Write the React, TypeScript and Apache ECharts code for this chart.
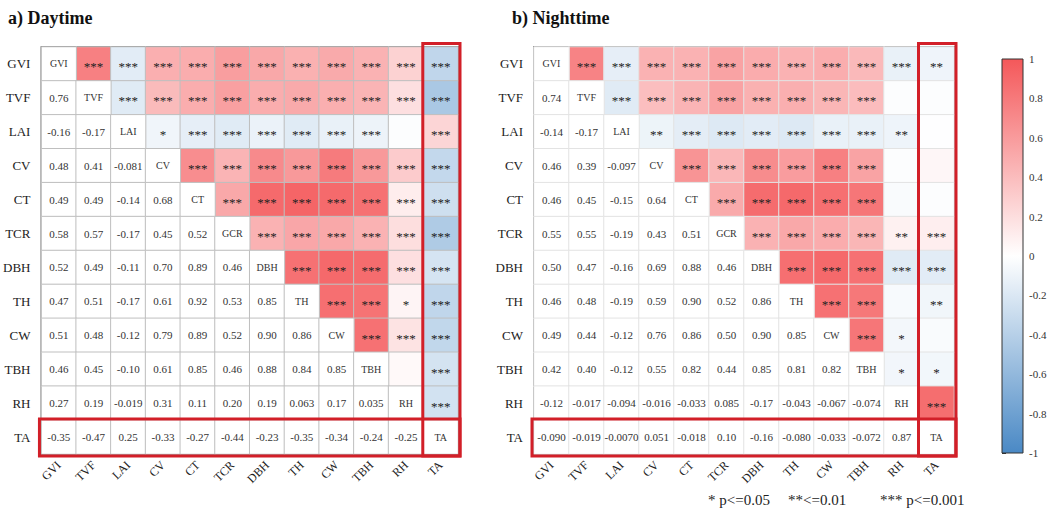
import React, { useEffect, useRef } from 'react';
import * as echarts from 'echarts';

const variables = ['GVI', 'TVF', 'LAI', 'CV', 'CT', 'TCR', 'DBH', 'TH', 'CW', 'TBH', 'RH', 'TA'];
const diagonalLabels = ['GVI', 'TVF', 'LAI', 'CV', 'CT', 'GCR', 'DBH', 'TH', 'CW', 'TBH', 'RH', 'TA'];
const colorbarTicks = [-1, -0.8, -0.6, -0.4, -0.2, 0, 0.2, 0.4, 0.6, 0.8, 1];

// lower triangle (row r, columns 0..r-1), as printed
const dayLower: string[][] = [
  [],
  ['0.76'],
  ['-0.16', '-0.17'],
  ['0.48', '0.41', '-0.081'],
  ['0.49', '0.49', '-0.14', '0.68'],
  ['0.58', '0.57', '-0.17', '0.45', '0.52'],
  ['0.52', '0.49', '-0.11', '0.70', '0.89', '0.46'],
  ['0.47', '0.51', '-0.17', '0.61', '0.92', '0.53', '0.85'],
  ['0.51', '0.48', '-0.12', '0.79', '0.89', '0.52', '0.90', '0.86'],
  ['0.46', '0.45', '-0.10', '0.61', '0.85', '0.46', '0.88', '0.84', '0.85'],
  ['0.27', '0.19', '-0.019', '0.31', '0.11', '0.20', '0.19', '0.063', '0.17', '0.035'],
  ['-0.35', '-0.47', '0.25', '-0.33', '-0.27', '-0.44', '-0.23', '-0.35', '-0.34', '-0.24', '-0.25'],
];

// upper triangle significance (row r, columns r+1..11)
const daySig: string[][] = [
  ['***', '***', '***', '***', '***', '***', '***', '***', '***', '***', '***'],
  ['***', '***', '***', '***', '***', '***', '***', '***', '***', '***'],
  ['*', '***', '***', '***', '***', '***', '***', '', '***'],
  ['***', '***', '***', '***', '***', '***', '***', '***'],
  ['***', '***', '***', '***', '***', '***', '***'],
  ['***', '***', '***', '***', '***', '***'],
  ['***', '***', '***', '***', '***'],
  ['***', '***', '*', '***'],
  ['***', '***', '***'],
  ['', '***'],
  ['***'],
  [],
];

const nightLower: string[][] = [
  [],
  ['0.74'],
  ['-0.14', '-0.17'],
  ['0.46', '0.39', '-0.097'],
  ['0.46', '0.45', '-0.15', '0.64'],
  ['0.55', '0.55', '-0.19', '0.43', '0.51'],
  ['0.50', '0.47', '-0.16', '0.69', '0.88', '0.46'],
  ['0.46', '0.48', '-0.19', '0.59', '0.90', '0.52', '0.86'],
  ['0.49', '0.44', '-0.12', '0.76', '0.86', '0.50', '0.90', '0.85'],
  ['0.42', '0.40', '-0.12', '0.55', '0.82', '0.44', '0.85', '0.81', '0.82'],
  ['-0.12', '-0.017', '-0.094', '-0.016', '-0.033', '0.085', '-0.17', '-0.043', '-0.067', '-0.074'],
  ['-0.090', '-0.019', '-0.0070', '0.051', '-0.018', '0.10', '-0.16', '-0.080', '-0.033', '-0.072', '0.87'],
];

const nightSig: string[][] = [
  ['***', '***', '***', '***', '***', '***', '***', '***', '***', '***', '**'],
  ['***', '***', '***', '***', '***', '***', '***', '***', '', ''],
  ['**', '***', '***', '***', '***', '***', '***', '**', ''],
  ['***', '***', '***', '***', '***', '***', '', ''],
  ['***', '***', '***', '***', '***', '', ''],
  ['***', '***', '***', '***', '**', '***'],
  ['***', '***', '***', '***', '***'],
  ['***', '***', '', '**'],
  ['***', '*', ''],
  ['*', '*'],
  ['***'],
  [],
];

// highlighted blocks: [x0, y0, x1, y1] in category indices
const highlightBoxes = [
  [11, 0, 11, 11],
  [0, 11, 11, 11],
];

const NEG = '#4a89c5';
const MID = '#ffffff';
const POS = '#f4585a';
const RED_BOX = '#d21f28';
const SERIF = '"Liberation Serif", "DejaVu Serif", serif';

function buildCells(lower: string[][], sig: string[][]) {
  const upper: any[] = [];
  const rest: any[] = [];
  const n = variables.length;
  for (let r = 0; r < n; r++) {
    for (let c = 0; c < n; c++) {
      if (c < r) {
        rest.push({ value: [c, r, parseFloat(lower[r][c])], txt: lower[r][c] });
      } else if (c === r) {
        rest.push({ value: [c, r, 1], txt: diagonalLabels[r], label: { fontSize: 10 } });
      } else {
        upper.push({ value: [c, r, parseFloat(lower[c][r])], txt: sig[r][c - r - 1] });
      }
    }
  }
  return { upper, rest };
}

function boxRender(params: any, api: any) {
  const x0 = api.value(0), y0 = api.value(1), x1 = api.value(2), y1 = api.value(3);
  const p0 = api.coord([x0, y0]);
  const p1 = api.coord([x1, y1]);
  const s = api.size([1, 1]);
  const isCol = x0 === x1;
  const left = Math.min(p0[0], p1[0]) - s[0] / 2 - (isCol ? 0.5 : 2);
  const right = Math.max(p0[0], p1[0]) + s[0] / 2 + 2;
  const top = Math.min(p0[1], p1[1]) - s[1] / 2 - (isCol ? 3.5 : 1);
  const bottom = Math.max(p0[1], p1[1]) + s[1] / 2 + 2;
  return {
    type: 'rect',
    shape: { x: left, y: top, width: right - left, height: bottom - top },
    style: { fill: 'none', stroke: RED_BOX, lineWidth: 3 },
    z2: 100,
  };
}

export default function App() {
  const ref = useRef<HTMLDivElement>(null);
  useEffect(() => {
    if (!ref.current) return;
    const chart = echarts.init(ref.current, null, { renderer: 'svg' });
    const day = buildCells(dayLower, daySig);
    const night = buildCells(nightLower, nightSig);

    const grids = [
      { left: 38, top: 47, width: 420, height: 407 },
      { left: 534, top: 47, width: 420, height: 407 },
    ];

    const xAxes: any[] = [];
    const yAxes: any[] = [];
    const series: any[] = [];
    [day, night].forEach((d, gi) => {
      xAxes.push({
        type: 'category', gridIndex: gi, data: variables,
        axisLine: { show: false }, axisTick: { show: false }, splitLine: { show: false },
        axisLabel: { rotate: 45, interval: 0, margin: 9, fontSize: 12, color: '#222', fontFamily: SERIF },
      });
      yAxes.push({
        type: 'category', gridIndex: gi, data: variables, inverse: true,
        axisLine: { show: false }, axisTick: { show: false }, splitLine: { show: false },
        axisLabel: { interval: 0, margin: 11, fontSize: 13, color: '#222', fontFamily: SERIF },
      });
      const border = gi === 0 ? '#bfbfbf' : '#e3e3e3';
      series.push({
        type: 'heatmap', xAxisIndex: gi, yAxisIndex: gi, data: d.upper,
        itemStyle: { borderColor: border, borderWidth: 1 },
        label: {
          show: true, formatter: (p: any) => p.data.txt, fontSize: 13, color: '#222',
          fontFamily: SERIF, offset: [0, 3],
        },
        emphasis: { disabled: true },
      });
      series.push({
        type: 'heatmap', xAxisIndex: gi, yAxisIndex: gi, data: d.rest,
        itemStyle: { borderColor: border, borderWidth: 1 },
        label: {
          show: true, formatter: (p: any) => p.data.txt, fontSize: 11, color: '#333',
          fontFamily: SERIF,
        },
        emphasis: { disabled: true },
      });
      series.push({
        type: 'custom', xAxisIndex: gi, yAxisIndex: gi, data: highlightBoxes,
        renderItem: boxRender, clip: false, z: 10, silent: true,
      });
    });

    // colorbar grid
    xAxes.push({ type: 'value', gridIndex: 2, min: 0, max: 1, show: false });
    yAxes.push({
      type: 'value', gridIndex: 2, min: -1, max: 1, interval: 0.2, position: 'right',
      axisLine: { show: false },
      axisTick: { show: true, length: 4, lineStyle: { color: '#333' } },
      splitLine: { show: false },
      axisLabel: {
        margin: 6, fontSize: 11, color: '#333', fontFamily: SERIF,
        formatter: (v: number) => String(Math.round(v * 10) / 10),
      },
    });
    series.push({
      type: 'custom', xAxisIndex: 2, yAxisIndex: 2,
      data: [[0, colorbarTicks[0], 1, colorbarTicks[colorbarTicks.length - 1]]],
      renderItem: (params: any, api: any) => {
        const p0 = api.coord([api.value(0), api.value(3)]);
        const p1 = api.coord([api.value(2), api.value(1)]);
        return {
          type: 'rect',
          shape: { x: p0[0], y: p0[1], width: p1[0] - p0[0], height: p1[1] - p0[1] },
          style: {
            fill: new echarts.graphic.LinearGradient(0, 0, 0, 1, [
              { offset: 0, color: POS },
              { offset: 0.5, color: MID },
              { offset: 1, color: NEG },
            ]),
            stroke: '#333', lineWidth: 1,
          },
        };
      },
      silent: true,
    });

    chart.setOption({
      animation: false,
      backgroundColor: '#ffffff',
      grid: [
        { ...grids[0], show: true, borderColor: '#111', borderWidth: 1.5, backgroundColor: 'transparent' },
        { ...grids[1], show: true, borderColor: '#111', borderWidth: 1.5, backgroundColor: 'transparent' },
        { left: 1002, top: 59, width: 21, height: 394 },
      ],
      xAxis: xAxes,
      yAxis: yAxes,
      visualMap: [
        {
          type: 'continuous', show: false, min: -1, max: 1, dimension: 2,
          seriesIndex: [0, 3], inRange: { color: [NEG, MID, POS] },
        },
        {
          type: 'continuous', show: false, min: -1, max: 1, dimension: 2,
          seriesIndex: [1, 4], inRange: { color: ['#ffffff', '#ffffff'] },
        },
      ],
      series,
      graphic: [
        { type: 'text', left: 8, top: 9, style: { text: 'a) Daytime', font: `bold 18px ${SERIF}`, fill: '#111' } },
        { type: 'text', left: 512, top: 9, style: { text: 'b) Nighttime', font: `bold 18px ${SERIF}`, fill: '#111' } },
        { type: 'text', left: 708, top: 492, style: { text: '* p<=0.05', font: `15px ${SERIF}`, fill: '#222' } },
        { type: 'text', left: 788, top: 492, style: { text: '**<=0.01', font: `15px ${SERIF}`, fill: '#222' } },
        { type: 'text', left: 880, top: 492, style: { text: '*** p<=0.001', font: `15px ${SERIF}`, fill: '#222' } },
      ],
    });
    return () => chart.dispose();
  }, []);
  return <div ref={ref} style={{ position: 'fixed', left: 0, top: 0, width: 1057, height: 510 }} />;
}
